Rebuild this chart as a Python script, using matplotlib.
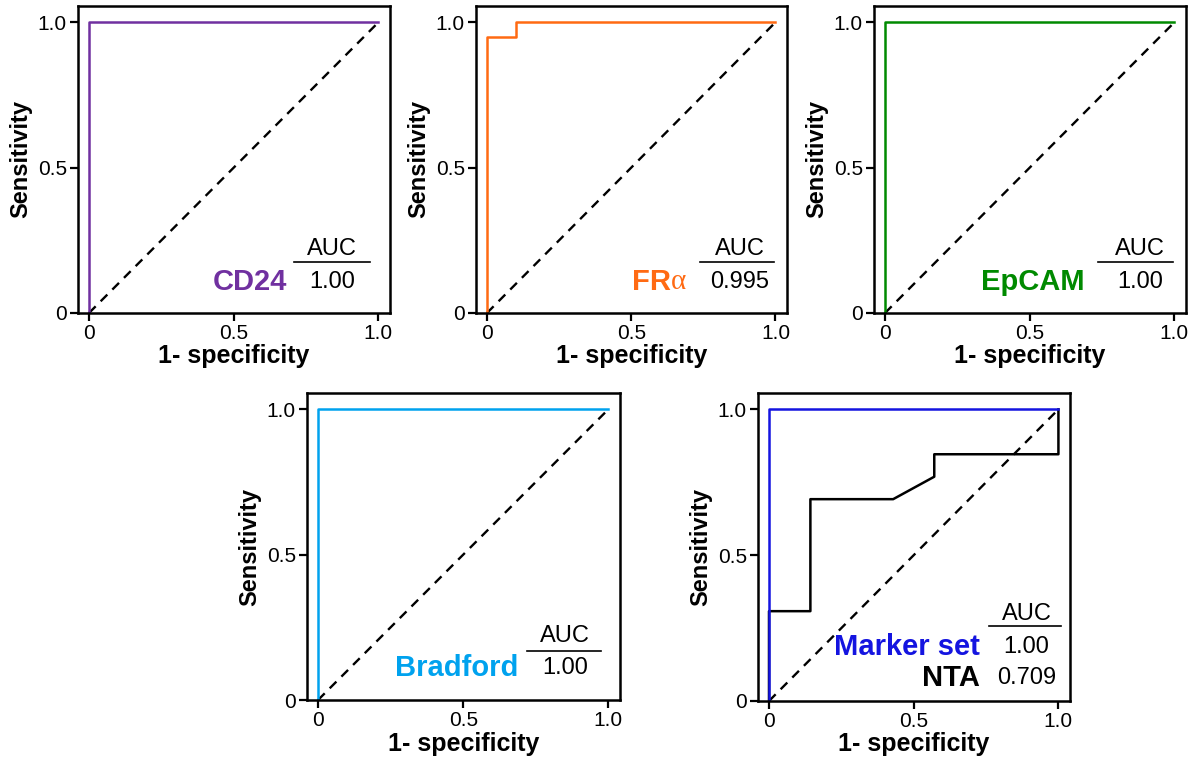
import matplotlib
matplotlib.use("Agg")
import matplotlib.pyplot as plt

plt.rcParams['font.family'] = ['Liberation Sans', 'DejaVu Sans']

# ROC curves (1-specificity, sensitivity)
cd24_x = [0, 0, 1]
cd24_y = [0, 1, 1]
fra_x = [0, 0, 0.1, 0.1, 1]
fra_y = [0, 0.95, 0.95, 1, 1]
epcam_x = [0, 0, 1]
epcam_y = [0, 1, 1]
bradford_x = [0, 0, 1]
bradford_y = [0, 1, 1]
marker_x = [0, 0, 1, 1]
marker_y = [0, 1, 1, 1]
nta_x = [0, 0, 0.143, 0.143, 0.429, 0.571, 0.571, 1, 1]
nta_y = [0, 0.308, 0.308, 0.692, 0.692, 0.769, 0.846, 0.846, 1]

auc_cd24 = "1.00"
auc_fra = "0.995"
auc_epcam = "1.00"
auc_bradford = "1.00"
auc_marker = "1.00"
auc_nta = "0.709"

W, H = 1196, 762
fig = plt.figure(figsize=(W / 100, H / 100), dpi=100)


def make_axes(left, right, top, bottom):
    ax = fig.add_axes([left / W, (H - bottom) / H, (right - left) / W, (bottom - top) / H])
    ax.set_xlim(-0.038, 1.04)
    ax.set_ylim(0, 1.056)
    ax.set_xticks([0, 0.5, 1.0])
    ax.set_xticklabels(["0", "0.5", "1.0"])
    ax.set_yticks([0, 0.5, 1.0])
    ax.set_yticklabels(["0", "0.5", "1.0"])
    ax.tick_params(direction='out', length=6, width=1.6, labelsize=15, pad=2)
    for s in ax.spines.values():
        s.set_linewidth(1.8)
    ax.set_xlabel("1- specificity", fontsize=18, fontweight='bold', labelpad=1)
    ax.set_ylabel("Sensitivity", fontsize=17, fontweight='bold', labelpad=4)
    ax.plot([0, 1], [0, 1], color='black', lw=1.7, ls=(0, (4, 3)))
    return ax


def auc_box(ax, xc, x0, x1, y_auc, y_line):
    ax.text(xc, y_auc, "AUC", ha='center', va='center', fontsize=17)
    ax.plot([x0, x1], [y_line, y_line], color='black', lw=1.2)


# top row
ax = make_axes(78, 390, 6, 313)
ax.plot(cd24_x, cd24_y, color='#7030A0', lw=1.8)
auc_box(ax, 0.84, 0.71, 0.97, 0.22, 0.175)
ax.text(0.84, 0.105, auc_cd24, ha='center', va='center', fontsize=17)
ax.text(0.685, 0.105, "CD24", ha='right', va='center', fontsize=21,
        fontweight='bold', color='#7030A0')

ax = make_axes(476, 787, 6, 313)
ax.plot(fra_x, fra_y, color='#FF6A13', lw=1.8)
auc_box(ax, 0.875, 0.74, 0.995, 0.22, 0.175)
ax.text(0.875, 0.105, auc_fra, ha='center', va='center', fontsize=17)
alpha = ax.text(0.69, 0.105, "α", ha='right', va='center', fontsize=21,
                family='Liberation Serif', color='#FF6A13')
ax.annotate("FR", xy=(0, 0.5), xycoords=alpha, ha='right', va='center',
            fontsize=21, fontweight='bold', color='#FF6A13')

ax = make_axes(874, 1186, 6, 313)
ax.plot(epcam_x, epcam_y, color='#008A00', lw=1.8)
auc_box(ax, 0.88, 0.735, 0.995, 0.22, 0.175)
ax.text(0.88, 0.105, auc_epcam, ha='center', va='center', fontsize=17)
ax.text(0.69, 0.105, "EpCAM", ha='right', va='center', fontsize=21,
        fontweight='bold', color='#008A00')

# bottom row
ax = make_axes(307, 620, 393, 700)
ax.plot(bradford_x, bradford_y, color='#00A2EE', lw=1.8)
auc_box(ax, 0.85, 0.72, 0.975, 0.22, 0.17)
ax.text(0.85, 0.11, auc_bradford, ha='center', va='center', fontsize=17)
ax.text(0.69, 0.11, "Bradford", ha='right', va='center', fontsize=21,
        fontweight='bold', color='#00A2EE')

ax = make_axes(758, 1070, 393, 701)
ax.plot(nta_x, nta_y, color='black', lw=1.8)
ax.plot(marker_x, marker_y, color='#1414E0', lw=1.8)
auc_box(ax, 0.89, 0.76, 1.01, 0.30, 0.258)
ax.text(0.89, 0.186, auc_marker, ha='center', va='center', fontsize=17)
ax.text(0.89, 0.08, auc_nta, ha='center', va='center', fontsize=17)
ax.text(0.73, 0.186, "Marker set", ha='right', va='center', fontsize=21,
        fontweight='bold', color='#1414E0')
ax.text(0.73, 0.08, "NTA", ha='right', va='center', fontsize=21,
        fontweight='bold', color='black')

fig.savefig("out.png", dpi=100)
